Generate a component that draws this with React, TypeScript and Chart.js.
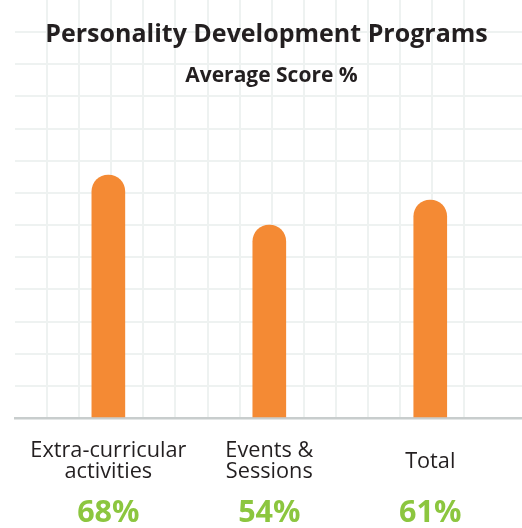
import React, { useEffect, useRef } from 'react';
import { Chart, registerables } from 'chart.js';

Chart.register(...registerables);

const TITLE = 'Personality Development Programs';
const SUBTITLE = 'Average Score %';
const categoryLines: string[][] = [['Extra-curricular', 'activities'], ['Events &', 'Sessions'], ['Total']];
const scores: number[] = [68, 54, 61];
const yTickStep = 9;
const yMax = 117;
const gridColumns = 15.8;

const FONT = '"Open Sans", "DejaVu Sans", sans-serif';
const GRID = '#eef2f1';

export default function App() {
  const ref = useRef<HTMLCanvasElement>(null);

  useEffect(() => {
    const canvas = ref.current;
    if (!canvas) return;
    const indexTicks = (axis: any) => {
      axis.ticks = scores.map((_, i) => ({ value: i }));
    };
    const chart = new Chart(canvas, {
      type: 'bar',
      data: {
        datasets: [
          {
            data: scores.map((v, i) => ({ x: i, y: v })),
            backgroundColor: '#f48a34',
            barThickness: 33,
            borderRadius: { topLeft: 17, topRight: 17, bottomLeft: 0, bottomRight: 0 },
            borderSkipped: 'bottom',
            xAxisID: 'x',
            yAxisID: 'y',
          } as any,
        ],
      },
      options: {
        animation: false,
        responsive: false,
        layout: { padding: { left: 15, right: 0, top: 0, bottom: 4.7 } },
        plugins: { legend: { display: false }, tooltip: { enabled: false }, title: { display: false } },
        scales: {
          xGrid: {
            type: 'linear',
            position: 'bottom',
            min: 0,
            max: gridColumns,
            weight: 0,
            offset: false,
            ticks: { display: false, stepSize: 1 },
            grid: {
              drawTicks: false,
              offset: false,
              lineWidth: 2,
              color: (c: any) =>
                c.tick && Number.isInteger(c.tick.value) && c.tick.value > 0 ? GRID : 'rgba(0,0,0,0)',
            },
            border: { display: false },
          },
          x: {
            type: 'linear',
            position: 'bottom',
            min: -0.58,
            max: 2.57,
            weight: 1,
            z: 1,
            offset: false,
            afterBuildTicks: indexTicks,
            grid: { display: false, drawTicks: false, offset: false },
            border: { display: true, color: '#c8cdcd', width: 2.5 },
            ticks: {
              autoSkip: false,
              maxRotation: 0,
              minRotation: 0,
              padding: 6.65,
              color: '#231f20',
              font: { family: FONT, size: 21.7, lineHeight: '10.5px' },
              callback: (_v: any, i: number) => {
                const l = categoryLines[i];
                return l.length > 1 ? ['', '', l[0], '', l[1]] : ['', '', '', l[0]];
              },
            },
          },
          pct: {
            type: 'linear',
            position: 'bottom',
            min: -0.58,
            max: 2.57,
            weight: 2,
            offset: false,
            afterBuildTicks: indexTicks,
            grid: { display: false, drawTicks: false, offset: false },
            border: { display: false },
            ticks: {
              autoSkip: false,
              maxRotation: 0,
              minRotation: 0,
              padding: 1,
              color: '#8cc63f',
              font: { family: FONT, size: 30.5, weight: 'bold', lineHeight: '18.73px' },
              callback: (_v: any, i: number) => ['', `${scores[i]}%`],
            },
          },
          y: {
            min: 0,
            max: yMax,
            ticks: { display: false, stepSize: yTickStep },
            grid: {
              drawTicks: false,
              lineWidth: 2,
              color: (c: any) => (c.tick && c.tick.value > 0 && c.tick.value < yMax ? GRID : 'rgba(0,0,0,0)'),
            },
            border: { display: false },
          },
        },
      } as any,
    });
    return () => chart.destroy();
  }, []);

  return (
    <div style={{ position: 'absolute', left: 0, top: 0, width: 522, height: 528, overflow: 'hidden' }}>
      <canvas ref={ref} width={522} height={528} style={{ position: 'absolute', left: 0, top: 0 }} />
      <div
        style={{
          position: 'absolute',
          left: 11,
          right: 0,
          top: 19.5,
          textAlign: 'center',
          fontFamily: FONT,
          fontWeight: 700,
          fontSize: 25,
          lineHeight: 1,
          color: '#231f20',
          whiteSpace: 'nowrap',
        }}
      >
        {TITLE}
      </div>
      <div
        style={{
          position: 'absolute',
          left: 21,
          right: 0,
          top: 64.4,
          textAlign: 'center',
          fontFamily: FONT,
          fontWeight: 700,
          fontSize: 21,
          lineHeight: 1,
          color: '#231f20',
          whiteSpace: 'nowrap',
        }}
      >
        {SUBTITLE}
      </div>
    </div>
  );
}
